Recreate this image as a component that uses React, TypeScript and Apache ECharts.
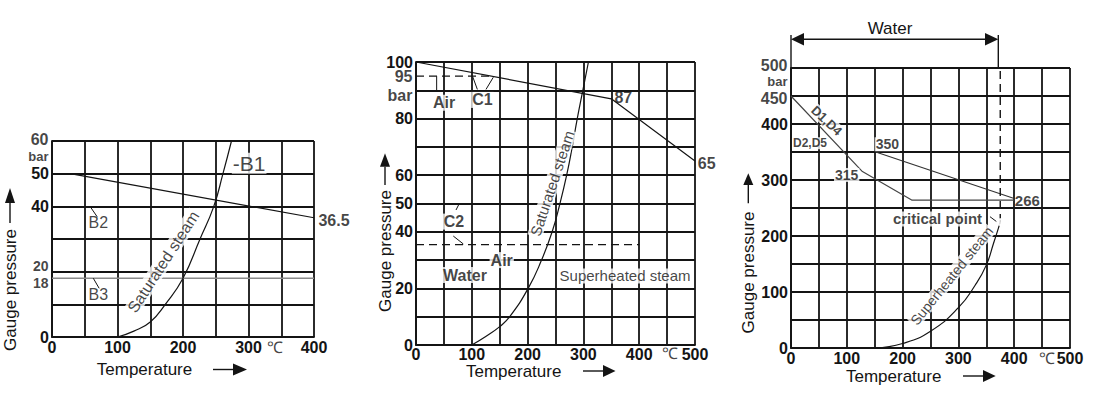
import React, { useEffect, useRef } from "react";
import * as echarts from "echarts";

// ================= DATA =================
// Panel 1 – B series (0–400 °C, 0–60 bar)
const p1XTickLabels = [0, 100, 200, 300, 400];
const p1YTickLabels = [0, 40, 50];
const p1B2Line: [number, number][] = [[28, 50], [400, 36.5]];
const p1B3Line: [number, number][] = [[0, 18], [400, 18]];
const p1Saturated: [number, number][] = [
  [100, 0], [125, 1.8], [150, 4.6], [173, 10], [200, 18], [226, 30], [247, 40], [261, 50], [274, 60],
];

// Panel 2 – C series (0–500 °C, 0–100 bar)
const p2XTickLabels = [0, 100, 200, 300, 400, 500];
const p2YTickLabels = [0, 20, 40, 50, 60, 80, 100];
const p2C1Line: [number, number][] = [[0, 100], [350, 87], [500, 65]];
const p2Air95: [number, number][] = [[0, 95], [135, 95]];
const p2Air35: [number, number][] = [[0, 35.5], [400, 35.5]];
const p2Saturated: [number, number][] = [
  [100, 0], [125, 3], [150, 6.5], [168, 10], [201, 20], [225, 30], [244, 40], [258, 50],
  [270, 60], [280, 70], [289, 80], [299, 90], [309, 100],
];

// Panel 3 – D series (0–500 °C, 0–500 bar)
const p3XTickLabels = [0, 100, 200, 300, 400, 500];
const p3YTickLabels = [0, 100, 200, 300, 400];
const p3D1Line: [number, number][] = [[0, 450], [128, 315], [217, 264], [400, 264]];
const p3D2Line: [number, number][] = [[152, 350], [400, 267]];
const p3CriticalPoint: [number, number] = [375, 225];
const p3CriticalDash: [number, number][] = [[375, 225], [375, 500]];
const p3Superheated: [number, number][] = [
  [151, 0], [200, 8], [250, 30], [300, 72], [330, 112], [350, 148], [363, 187], [372, 215], [375, 225],
];

// ================= ANNOTATIONS =================
type Note = { text: string; t: number; p: number; size?: number; bold?: boolean; bg?: boolean; rotate?: number; dy?: number; pos?: string };

const p1Notes: Note[] = [
  { text: "-B1", t: 301, p: 53.2, size: 21, bg: true },
  { text: "B2", t: 70.7, p: 35.0 },
  { text: "B3", t: 70.7, p: 13.1 },
  { text: "36.5", t: 430.5, p: 35.8, bold: true },
  { text: "Saturated steam", t: 170, p: 23.0, rotate: 57, bg: true },
  { text: "℃", t: 340, p: 0, dy: 10.6 },
  { text: "60", t: 0, p: 60, bold: true, pos: "left", dy: -2 },
  { text: "bar", t: 0, p: 55.25, size: 13, bold: true, pos: "left" },
  { text: "20", t: 0, p: 20, size: 14, bold: true, pos: "left", dy: -5.5 },
  { text: "18", t: 0, p: 18, size: 14, bold: true, pos: "left", dy: 4.3 },
];
const p1Leaders: [number, number][][] = [
  [[58, 40], [69, 36.8]],
  [[63, 18], [72, 14.9]],
];

const p2Notes: Note[] = [
  { text: "Air", t: 50.2, p: 85.6, bold: true, bg: true },
  { text: "C1", t: 118.9, p: 86.6, bold: true, bg: true },
  { text: "87", t: 371.5, p: 87.5, bold: true },
  { text: "65", t: 521, p: 64.2, bold: true },
  { text: "C2", t: 68.1, p: 43.6, bold: true, bg: true },
  { text: "Air", t: 153.6, p: 30, bold: true, bg: true },
  { text: "Water", t: 87.8, p: 24.7, bold: true, bg: true },
  { text: "Superheated steam", t: 374.6, p: 24.4, size: 15, bg: true },
  { text: "Saturated steam", t: 244, p: 57.1, size: 15, rotate: 71.6, bg: true },
  { text: "℃", t: 455, p: 0, dy: 8.3 },
  { text: "95", t: 0, p: 95, bold: true, pos: "left", dy: 0.8 },
  { text: "bar", t: 0, p: 88.3, bold: true, pos: "left" },
];
const p2Leaders: [number, number][][] = [
  [[37, 95], [37, 89.5]],
  [[101.6, 94.8], [110, 90.3]],
  [[138.5, 94.6], [125.4, 90.3]],
  [[77.6, 50], [71.7, 47.7]],
  [[66.8, 38.5], [84.8, 35.7]],
];

const p3Notes: Note[] = [
  { text: "D1,D4", t: 64, p: 405.9, size: 13, bold: true, rotate: -43, bg: true },
  { text: "D2,D5", t: 34, p: 365.5, size: 12, bold: true, bg: true },
  { text: "350", t: 172.6, p: 363.8, size: 14, bold: true, bg: true },
  { text: "315", t: 99.8, p: 309, size: 14, bold: true, bg: true },
  { text: "266", t: 423.5, p: 263, size: 15, bold: true },
  { text: "critical point", t: 262.5, p: 230.4, size: 15, bold: true, bg: true },
  { text: "Superheated steam", t: 288, p: 129, size: 14, rotate: 51, bg: true },
  { text: "℃", t: 458, p: 0, dy: 10.7 },
  { text: "500", t: 0, p: 500, bold: true, pos: "left", dy: -2.5 },
  { text: "bar", t: 0, p: 475.9, size: 13, bold: true, pos: "left" },
  { text: "450", t: 0, p: 450, bold: true, pos: "left", dy: 2 },
];
const p3Leaders: [number, number][][] = [[[356.6, 234.5], [368.6, 225.5]]];

// ================= STYLE =================
const FONT = "'Liberation Sans', Arial, Helvetica, sans-serif";
const INK = "#141414";
const GRID_W = 1.8;

function xAxis(i: number, max: number, shown: number[], margin: number) {
  return {
    type: "value", gridIndex: i, min: 0, max, interval: 50,
    axisLine: { show: true, lineStyle: { color: INK, width: GRID_W } },
    axisTick: { show: false },
    splitLine: { show: true, lineStyle: { color: INK, width: GRID_W } },
    axisLabel: {
      margin, color: INK, fontSize: 16, fontWeight: "bold", fontFamily: FONT,
      formatter: (v: number) => (shown.includes(v) ? String(v) : ""),
    },
  };
}
function yAxis(i: number, max: number, interval: number, shown: number[]) {
  return {
    type: "value", gridIndex: i, min: 0, max, interval,
    axisLine: { show: true, lineStyle: { color: INK, width: GRID_W } },
    axisTick: { show: false },
    splitLine: { show: true, lineStyle: { color: INK, width: GRID_W } },
    axisLabel: {
      margin: 3, color: INK, fontSize: 16, fontWeight: "bold", fontFamily: FONT,
      formatter: (v: number) => (shown.includes(v) ? String(v) : ""),
    },
  };
}
function line(i: number, data: [number, number][], o: any = {}) {
  return {
    type: "line", xAxisIndex: i, yAxisIndex: i, data, symbol: "none", silent: true, clip: false,
    smooth: o.smooth ? 0.5 : false,
    lineStyle: { color: o.color ?? INK, width: o.width ?? 1.2, type: o.dash ? [8, 5] : "solid" },
    z: o.z ?? 3,
  };
}
function notes(i: number, list: Note[]) {
  return {
    type: "scatter", xAxisIndex: i, yAxisIndex: i, silent: true, clip: false, z: 6,
    symbolSize: 1, itemStyle: { color: "rgba(0,0,0,0)" },
    data: list.map((n) => ({
      value: [n.t, n.p],
      label: {
        show: true, formatter: n.text, position: n.pos ?? "inside", distance: 3,
        offset: [0, n.dy ?? 0], rotate: n.rotate ?? 0,
        color: INK, fontFamily: FONT, fontSize: n.size ?? 16, fontWeight: n.bold ? "bold" : "normal",
        backgroundColor: n.bg ? "#ffffff" : "transparent", padding: n.bg ? [0, 1] : 0,
      },
    })),
  };
}

function vTitle(x: number, cy: number, apex: number, base: number, end: number) {
  return [
    { type: "text", x, y: cy, rotation: Math.PI / 2,
      style: { text: "Gauge pressure", fill: INK, fontSize: 17, fontFamily: FONT, align: "center", verticalAlign: "middle", textAlign: "center", textVerticalAlign: "middle" } },
    { type: "polygon", shape: { points: [[x, apex], [x - 5, base], [x + 5, base]] }, style: { fill: INK } },
    { type: "line", shape: { x1: x, y1: base, x2: x, y2: end }, style: { stroke: INK, lineWidth: 1.4 } },
  ];
}
function hTitle(cx: number, y: number, l0: number, tri0: number, tri1: number) {
  return [
    { type: "text", x: cx, y,
      style: { text: "Temperature", fill: INK, fontSize: 17, fontFamily: FONT, align: "center", verticalAlign: "middle", textAlign: "center", textVerticalAlign: "middle" } },
    { type: "line", shape: { x1: l0, y1: y, x2: tri0, y2: y }, style: { stroke: INK, lineWidth: 1.4 } },
    { type: "polygon", shape: { points: [[tri0, y - 6], [tri0, y + 6], [tri1, y]] }, style: { fill: INK } },
  ];
}

export default function App() {
  const ref = useRef<HTMLDivElement>(null);
  useEffect(() => {
    if (!ref.current) return;
    const chart = echarts.init(ref.current, null, { renderer: "svg" });
    const series: any[] = [
      // panel 1
      line(0, p1B3Line, { color: "#8a8a8a", width: 1.6, z: 2 }),
      line(0, p1B2Line),
      line(0, p1Saturated, { smooth: true }),
      ...p1Leaders.map((d) => line(0, d, { width: 1 })),
      notes(0, p1Notes),
      // panel 2
      line(1, p2C1Line),
      line(1, p2Air95, { dash: true }),
      line(1, p2Air35, { dash: true }),
      line(1, p2Saturated, { smooth: true }),
      ...p2Leaders.map((d) => line(1, d, { width: 1 })),
      notes(1, p2Notes),
      // panel 3
      line(2, p3D1Line, { color: "#444" }),
      line(2, p3D2Line, { color: "#333" }),
      line(2, p3CriticalDash, { dash: true, width: 1.4 }),
      line(2, p3Superheated, { smooth: true }),
      ...p3Leaders.map((d) => line(2, d, { width: 1 })),
      {
        type: "scatter", xAxisIndex: 2, yAxisIndex: 2, silent: true, z: 7,
        symbol: "emptyCircle", symbolSize: 6, data: [p3CriticalPoint],
        itemStyle: { color: "#fff", borderColor: INK, borderWidth: 1.2 },
      },
      notes(2, p3Notes),
    ];

    const graphic: any[] = [
      ...vTitle(10, 290, 188, 203, 223),
      ...hTitle(144.5, 369.5, 213, 233, 247),
      ...vTitle(385, 251, 153.3, 166.7, 185),
      ...hTitle(513.7, 371, 583, 603, 615.5),
      ...vTitle(748.3, 272.5, 173.3, 185, 203.3),
      ...hTitle(893.7, 376, 963, 983, 995.7),
      // Water range arrow (panel 3)
      { type: "line", shape: { x1: 791, y1: 35, x2: 791, y2: 68 }, style: { stroke: INK, lineWidth: 1.4 } },
      { type: "line", shape: { x1: 998.3, y1: 35, x2: 998.3, y2: 68 }, style: { stroke: INK, lineWidth: 1.4 } },
      { type: "line", shape: { x1: 803, y1: 39.3, x2: 986, y2: 39.3 }, style: { stroke: INK, lineWidth: 1.4 } },
      { type: "polygon", shape: { points: [[791, 39.3], [804, 33], [804, 45.6]] }, style: { fill: INK } },
      { type: "polygon", shape: { points: [[998.3, 39.3], [985, 33], [985, 45.6]] }, style: { fill: INK } },
      { type: "text", x: 890, y: 28.3,
        style: { text: "Water", fill: INK, fontSize: 17, fontFamily: FONT, align: "center", verticalAlign: "middle", textAlign: "center", textVerticalAlign: "middle" } },
    ];

    chart.setOption({
      animation: false,
      backgroundColor: "#ffffff",
      textStyle: { fontFamily: FONT },
      grid: [
        { left: 52, top: 141, width: 262, height: 196 },
        { left: 416, top: 62, width: 279, height: 283 },
        { left: 791, top: 68, width: 279, height: 280 },
      ],
      xAxis: [
        xAxis(0, 400, p1XTickLabels, 2),
        xAxis(1, 500, p2XTickLabels, 1),
        xAxis(2, 500, p3XTickLabels, 2),
      ],
      yAxis: [
        yAxis(0, 60, 10, p1YTickLabels),
        yAxis(1, 100, 10, p2YTickLabels),
        yAxis(2, 500, 50, p3YTickLabels),
      ],
      series,
      graphic,
    });
    return () => chart.dispose();
  }, []);
  return <div ref={ref} style={{ position: "absolute", left: 0, top: 0, width: 1104, height: 399 }} />;
}
